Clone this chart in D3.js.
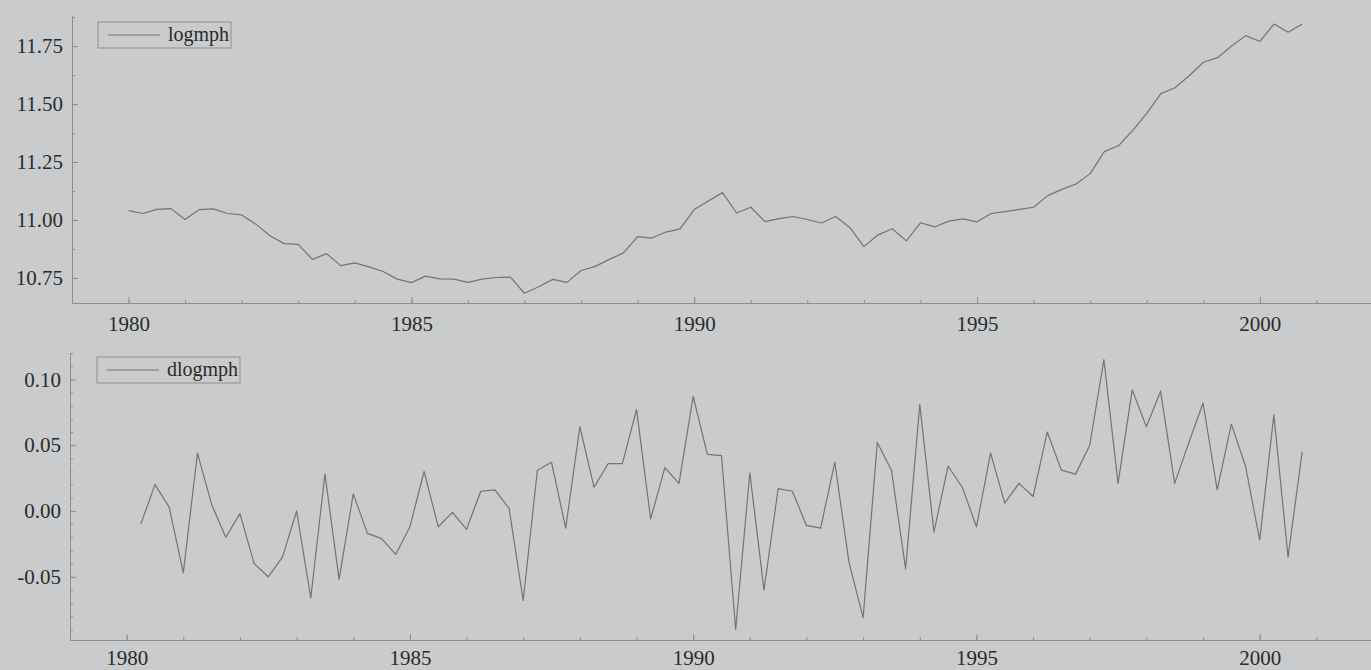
<!DOCTYPE html>
<html>
<head>
<meta charset="utf-8">
<script src="https://cdn.jsdelivr.net/npm/d3@7"></script>
<style>
  html, body { margin: 0; padding: 0; background: #c9cbcc; }
  svg { display: block; }
  .axis text { font-family: "Liberation Serif", "DejaVu Serif", serif; fill: #2a2b2c; }
</style>
</head>
<body>
<svg id="chart" width="1371" height="670"></svg>
<script>
// Quarterly series, 1980Q1 - 2000Q4
const startYear = 1980;
const logmph = [
  11.040, 11.028, 11.046, 11.049, 11.002, 11.045, 11.048, 11.028,
  11.022, 10.982, 10.932, 10.898, 10.895, 10.830, 10.855, 10.803,
  10.815, 10.798, 10.778, 10.745, 10.730, 10.758, 10.746, 10.745,
  10.731, 10.745, 10.752, 10.754, 10.684, 10.712, 10.744, 10.731,
  10.782, 10.800, 10.830, 10.858, 10.928, 10.922, 10.948, 10.962,
  11.045, 11.082, 11.118, 11.030, 11.055, 10.993, 11.006, 11.015,
  11.002, 10.987, 11.015, 10.968, 10.885, 10.936, 10.962, 10.910,
  10.988, 10.970, 10.995, 11.005, 10.992, 11.028, 11.036, 11.046,
  11.055, 11.105, 11.132, 11.155, 11.200, 11.295, 11.320, 11.385,
  11.460, 11.545, 11.570, 11.622, 11.680, 11.700, 11.750, 11.795,
  11.770, 11.845, 11.810, 11.845
];
// First difference, starting 1980Q2
const dlogmph = [
  -0.010, 0.020, 0.003, -0.047, 0.044, 0.005, -0.020, -0.002,
  -0.040, -0.050, -0.035, 0.000, -0.066, 0.028, -0.052, 0.013,
  -0.017, -0.021, -0.033, -0.012, 0.030, -0.012, -0.001, -0.014,
  0.015, 0.016, 0.002, -0.068, 0.031, 0.037, -0.013, 0.064,
  0.018, 0.036, 0.036, 0.077, -0.006, 0.033, 0.021, 0.087,
  0.043, 0.042, -0.090, 0.029, -0.060, 0.017, 0.015, -0.011,
  -0.013, 0.037, -0.039, -0.081, 0.052, 0.031, -0.044, 0.081,
  -0.016, 0.034, 0.018, -0.012, 0.044, 0.006, 0.021, 0.011,
  0.060, 0.031, 0.028, 0.050, 0.115, 0.021, 0.092, 0.064,
  0.091, 0.021, 0.052, 0.082, 0.016, 0.066, 0.034, -0.022,
  0.073, -0.035, 0.045
];

const yearTicks = [1980, 1985, 1990, 1995, 2000];
const topYTicks = [10.75, 11.00, 11.25, 11.50, 11.75];
const bottomYTicks = [-0.05, 0.00, 0.05, 0.10];

const locale = d3.formatLocale({decimal: ".", thousands: ",", grouping: [3], currency: ["", ""], minus: "-"});
const fmt2 = locale.format(".2f");

const svg = d3.select("#chart");

function drawPanel(opt) {
  const g = svg.append("g");
  const x = d3.scaleLinear().domain([1979, 2002]).range([opt.left, 1373]);
  const y = d3.scaleLinear().domain(opt.yDomain).range([opt.bottom, opt.top]);

  const minorX = d3.range(1979, 2002.5, 1);

  // y axis: minor ticks, then labelled major ticks
  g.append("g").attr("class", "axis")
    .attr("transform", `translate(${opt.left},0)`)
    .call(d3.axisLeft(y).tickValues(opt.minorY).tickSize(-3).tickSizeOuter(0).tickFormat(""))
    .call(s => s.select(".domain").remove());
  const ya = g.append("g").attr("class", "axis")
    .attr("transform", `translate(${opt.left},0)`)
    .call(d3.axisLeft(y).tickValues(opt.yTicks).tickSize(-6).tickSizeOuter(0)
      .tickPadding(9).tickFormat(fmt2));
  ya.selectAll("text").attr("font-size", 21);
  ya.select(".domain").attr("stroke", "#8d8f91");

  // x axis: yearly minor ticks, labelled every five years
  g.append("g").attr("class", "axis")
    .attr("transform", `translate(0,${opt.bottom})`)
    .call(d3.axisBottom(x).tickValues(minorX).tickSize(-3).tickSizeOuter(0).tickFormat(""))
    .call(s => s.select(".domain").remove());
  const xa = g.append("g").attr("class", "axis")
    .attr("transform", `translate(0,${opt.bottom})`)
    .call(d3.axisBottom(x).tickValues(yearTicks).tickSize(-6).tickSizeOuter(0)
      .tickPadding(opt.xPad).tickFormat(d3.format("d")));
  xa.selectAll("text").attr("font-size", 21);
  xa.select(".domain").attr("stroke", "#8d8f91");

  g.selectAll(".tick line").attr("stroke", "#8d8f91");

  // series line
  const line = d3.line()
    .x((d, i) => x(startYear + (i + opt.offset) / 4))
    .y(d => y(d));
  g.append("path")
    .datum(opt.values)
    .attr("fill", "none")
    .attr("stroke", "#727476")
    .attr("stroke-width", 1.2)
    .attr("stroke-linejoin", "round")
    .attr("d", line);

  // legend
  const lg = g.append("g").attr("transform", `translate(${opt.legend[0]},${opt.legend[1]})`);
  lg.append("rect")
    .attr("width", opt.legendW).attr("height", 26)
    .attr("fill", "none").attr("stroke", "#8d8f91").attr("stroke-width", 1);
  lg.append("line")
    .attr("x1", 10).attr("x2", 62).attr("y1", 13).attr("y2", 13)
    .attr("stroke", "#727476").attr("stroke-width", 1.2);
  lg.append("text")
    .attr("x", 70).attr("y", 19)
    .attr("font-family", '"Liberation Serif", "DejaVu Serif", serif')
    .attr("font-size", 20)
    .attr("fill", "#2a2b2c")
    .text(opt.name);
}

drawPanel({
  name: "logmph",
  values: logmph,
  offset: 0,
  left: 72, top: 15, bottom: 303,
  xPad: 13,
  yDomain: [10.642, 11.884],
  yTicks: topYTicks,
  minorY: d3.range(10.625, 11.9, 0.125).filter(v => v >= 10.642 && v <= 11.884),
  legend: [98, 22], legendW: 133
});

drawPanel({
  name: "dlogmph",
  values: dlogmph,
  offset: 1,
  left: 70, top: 353, bottom: 640,
  xPad: 10,
  yDomain: [-0.098, 0.12],
  yTicks: bottomYTicks,
  minorY: d3.range(-9, 13, 1).map(v => v / 100),
  legend: [97, 357], legendW: 143
});
</script>
</body>
</html>
